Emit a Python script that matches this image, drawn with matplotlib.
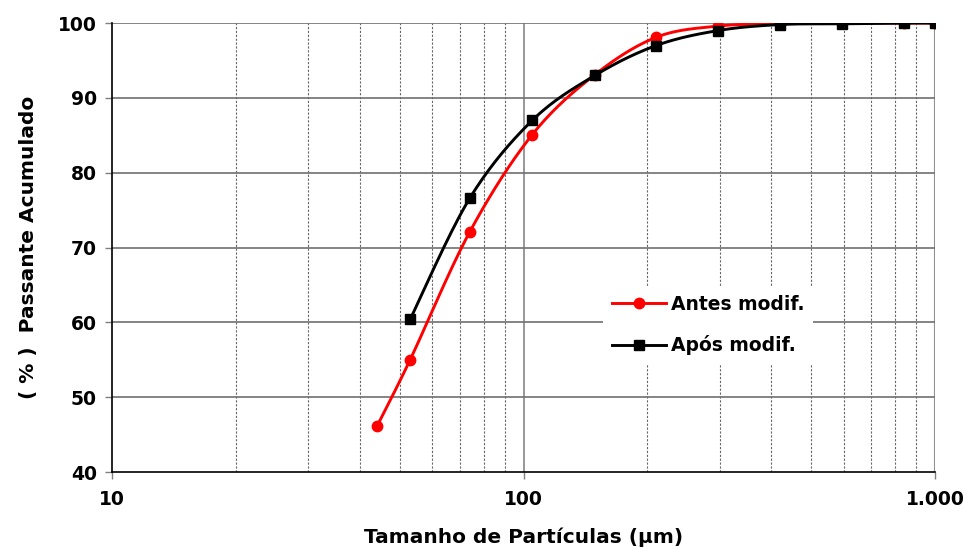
import matplotlib

matplotlib.use("Agg")
import matplotlib.pyplot as plt
import numpy as np
from matplotlib.ticker import FixedLocator, NullFormatter

# particle size (um) and cumulative passing (%)
sizes_antes = [44, 53, 74, 105, 149, 210, 297, 420, 594, 840, 1000]
pass_antes = [46.1, 55.0, 72.1, 85.1, 93.1, 98.1, 99.6, 99.9, 100.0, 100.0, 100.0]

sizes_apos = [53, 74, 105, 149, 210, 297, 420, 594, 840, 1000]
pass_apos = [60.4, 76.6, 87.0, 93.0, 97.0, 99.0, 99.8, 99.9, 100.0, 100.0]

xticks = [10, 100, 1000]
xtick_labels = ["10", "100", "1.000"]
yticks = [40, 50, 60, 70, 80, 90, 100]


def smooth(x, y, n=30):
    # Excel-style smoothed line: Catmull-Rom Bezier through the points, log-x space
    lx = np.log10(np.asarray(x, float))
    y = np.asarray(y, float)
    px = np.concatenate([[lx[0]], lx, [lx[-1]]])
    py = np.concatenate([[y[0]], y, [y[-1]]])
    xs, ys = [], []
    t = np.linspace(0, 1, n)
    for i in range(1, len(px) - 2):
        p0 = np.array([px[i], py[i]])
        p3 = np.array([px[i + 1], py[i + 1]])
        c1 = p0 + (np.array([px[i + 1], py[i + 1]]) - np.array([px[i - 1], py[i - 1]])) / 6
        c2 = p3 - (np.array([px[i + 2], py[i + 2]]) - np.array([px[i], py[i]])) / 6
        b = (np.outer((1 - t) ** 3, p0) + np.outer(3 * (1 - t) ** 2 * t, c1)
             + np.outer(3 * (1 - t) * t ** 2, c2) + np.outer(t ** 3, p3))
        xs.append(b[:, 0])
        ys.append(b[:, 1])
    return 10 ** np.concatenate(xs), np.concatenate(ys)


plt.rcParams["font.family"] = "DejaVu Sans"
plt.rcParams["font.weight"] = "bold"

fig = plt.figure(figsize=(9.66, 5.49), dpi=100)
ax = fig.add_axes([0.116, 0.140, 0.852, 0.818])

ax.set_xscale("log")
ax.set_xlim(10, 1000)
ax.set_ylim(40, 100)

# grid
minor = [v * d for d in (10, 100) for v in range(2, 10)]
for v in minor:
    ax.axvline(v, color="#666666", lw=0.8, ls=(0, (2, 1.5)), zorder=0)
ax.axvline(100, color="#909090", lw=1.3, zorder=0)
ax.axvline(1000, color="#909090", lw=1.5, zorder=0)
for v in yticks[1:]:
    ax.axhline(v, color="#707070", lw=1.2, zorder=0)

sx, sy = smooth(sizes_antes, pass_antes)
ax.plot(sx, sy, color="#ff0000", lw=2.1, zorder=3)
ax.plot(sizes_antes, pass_antes, "o", color="#ff0000", ms=7.5, zorder=4)
sx, sy = smooth(sizes_apos, pass_apos)
ax.plot(sx, sy, color="black", lw=2.1, zorder=5)
ax.plot(sizes_apos, pass_apos, "s", color="black", ms=6.5, zorder=6)

# legend handles
ax.plot([], [], "-o", color="#ff0000", lw=2.1, ms=7.5, label="Antes modif.")
ax.plot([], [], "-s", color="black", lw=2.1, ms=6.5, label="Após modif.")
leg = ax.legend(loc="center", bbox_to_anchor=(0.733, 0.408), bbox_transform=fig.transFigure,
                frameon=True, fancybox=False, edgecolor="none", facecolor="white", framealpha=1,
                handlelength=2.9, labelspacing=1.15, handletextpad=0.25, borderpad=0.45,
                prop={"weight": "bold", "size": 13.5})
leg.set_zorder(10)

ax.xaxis.set_major_locator(FixedLocator(xticks))
ax.set_xticklabels(xtick_labels)
ax.xaxis.set_minor_locator(FixedLocator(minor))
ax.xaxis.set_minor_formatter(NullFormatter())
ax.tick_params(axis="x", which="minor", length=0)
ax.set_yticks(yticks)
ax.tick_params(axis="both", which="major", labelsize=13.5, length=5, color="#808080", width=1)
ax.tick_params(axis="x", pad=8)
ax.tick_params(axis="y", pad=6)

for s in ("top", "right"):
    ax.spines[s].set_visible(False)
ax.spines["left"].set_color("black")
ax.spines["bottom"].set_color("black")
ax.spines["left"].set_linewidth(1.2)
ax.spines["bottom"].set_linewidth(1.2)

ax.set_xlabel("Tamanho de Partículas (µm)", fontsize=14.5, fontweight="bold", labelpad=13)
ax.set_ylabel("( % )  Passante Acumulado", fontsize=14.5, fontweight="bold", labelpad=14)

fig.savefig("out.png", dpi=100)
